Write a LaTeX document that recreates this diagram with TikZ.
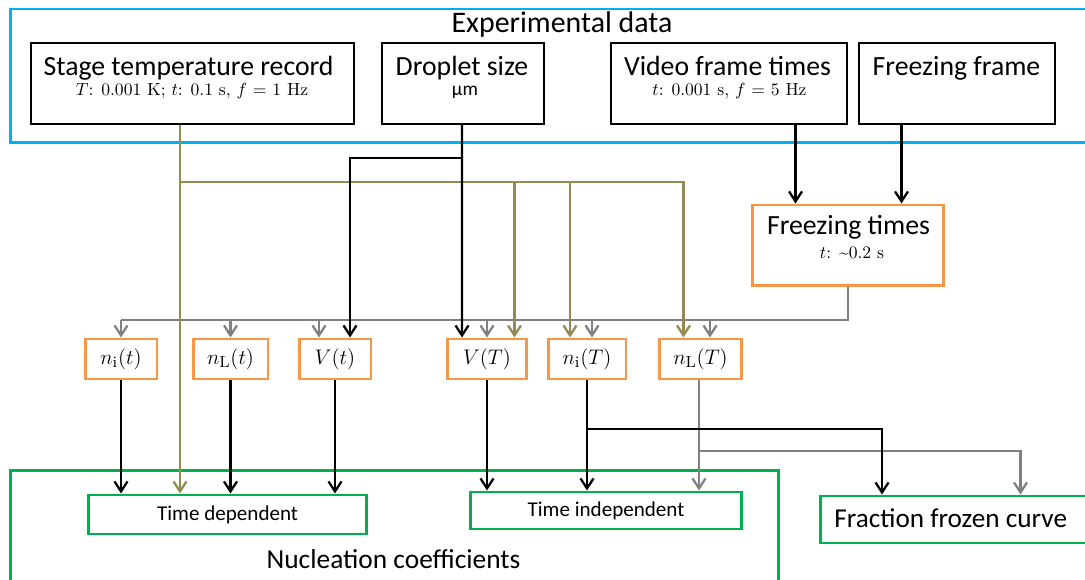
\documentclass[tikz,border=0pt]{standalone}
\usepackage{fontspec}
\setsansfont{Carlito}
\usetikzlibrary{arrows.meta}

\definecolor{expblue}{HTML}{00B0F0}
\definecolor{nucgreen}{HTML}{00B050}
\definecolor{calcorange}{HTML}{F79646}
\definecolor{tempolive}{HTML}{948A54}
\definecolor{framegray}{HTML}{808080}

\tikzset{
  panel/.style={draw, line width=1.7pt, inner sep=0pt},
  databox/.style={draw, line width=1.2pt, inner sep=0pt, minimum height=1.62cm},
  calcbox/.style={draw=calcorange, line width=1.7pt, inner sep=0pt},
  resbox/.style={draw=nucgreen, line width=1.7pt, inner sep=0pt},
  headfont/.style={font=\sffamily\fontsize{17}{20}\selectfont, inner sep=0pt},
  namefont/.style={font=\sffamily\fontsize{15.8}{19}\selectfont, inner sep=0pt},
  unitfont/.style={font=\fontsize{10}{12}\selectfont, inner sep=0pt},
  smallfont/.style={font=\sffamily\fontsize{12}{14}\selectfont},
  wire/.style={line width=1.3pt},
  tempwire/.style={wire, draw=tempolive},
  framewire/.style={wire, draw=framegray},
}

\begin{document}
\begin{tikzpicture}[x=0.02cm, y=-0.02cm, >={Straight Barb[length=2mm, width=2.6mm]}]
  \clip (0,0) rectangle (1085,580);

  % measured data
  \node[panel, draw=expblue, minimum width=21.8cm, minimum height=2.68cm] (expdata) at (555,76) {};
  \node[headfont, anchor=base] (exptitle) at (562,33) {Experimental data};
  \node[databox, minimum width=6.46cm] (stage) at (192.5,83.5) {};
  \node[namefont, anchor=base] (stagename) at (188.5,76) {Stage temperature record};
  \node[unitfont, anchor=base] (stageres) at (192,96) {$T$: 0.001 K; $t$: 0.1 s, $f$ = 1 Hz};
  \node[databox, minimum width=3.24cm] (droplet) at (463,83.5) {};
  \node[namefont, anchor=base] (dropletname) at (462,76) {Droplet size};
  \node[font=\sffamily\fontsize{11}{13}\selectfont, inner sep=0pt, anchor=base] (dropletres) at (465,96) {µm};
  \node[databox, minimum width=4.72cm] (video) at (729,83.5) {};
  \node[namefont, anchor=base] (videoname) at (727.5,76) {Video frame times};
  \node[unitfont, anchor=base] (videores) at (729.5,96) {$t$: 0.001 s, $f$ = 5 Hz};
  \node[databox, minimum width=3.92cm] (frame) at (957,83.5) {};
  \node[namefont, anchor=base] (framename) at (956.5,76) {Freezing frame};

  % derived quantities
  \node[calcbox, minimum width=3.84cm, minimum height=1.62cm] (ftimes) at (848,245.5) {};
  \node[namefont, anchor=base] (ftimesname) at (848.5,235) {Freezing times};
  \node[unitfont, anchor=base] (ftimesres) at (852,259) {$t$: \textasciitilde0.2 s};

  \tikzset{every node/.append style={font=\fontsize{13}{15}\selectfont}}
  \node[calcbox, minimum width=1.44cm, minimum height=0.8cm] (nit) at (121,359) {$n_{\mathrm{i}}(t)$};
  \node[calcbox, minimum width=1.5cm, minimum height=0.8cm] (nLt) at (230.5,359) {$n_{\mathrm{L}}(t)$};
  \node[calcbox, minimum width=1.44cm, minimum height=0.8cm] (Vt) at (335,359) {$V(t)$};
  \node[calcbox, minimum width=1.58cm, minimum height=0.8cm] (VT) at (487,359) {$V(T)$};
  \node[calcbox, minimum width=1.56cm, minimum height=0.8cm] (niT) at (587,359) {$n_{\mathrm{i}}(T)$};
  \node[calcbox, minimum width=1.64cm, minimum height=0.8cm] (nLT) at (700.5,359) {$n_{\mathrm{L}}(T)$};

  % results
  \node[panel, draw=nucgreen, minimum width=15.38cm, minimum height=2.6cm] (nucl) at (394.5,535) {};
  \node[headfont, font=\sffamily\fontsize{15.6}{18}\selectfont, anchor=base] (nucltitle) at (393.5,568) {Nucleation coefficients};
  \node[resbox, smallfont, minimum width=5.56cm, minimum height=0.78cm] (tdep) at (227.6,514.5) {Time dependent};
  \node[resbox, smallfont, minimum width=5.44cm, minimum height=0.74cm] (tind) at (606,510.5) {Time independent};
  \node[resbox, minimum width=5.6cm, minimum height=0.94cm] (frac) at (960,519.5) {};
  \node[namefont, font=\sffamily\fontsize{15.5}{18}\selectfont, anchor=base west] (fracname) at (834,527) {Fraction frozen curve};

  % bus points
  \coordinate (tempbus) at (180,182);
  \coordinate (sizebus) at (462,158);
  \coordinate (framebus) at (849,320);
  \coordinate (nibus) at (587,429);
  \coordinate (nlbus) at (699,451);

  % freezing times to every quantity
  \draw[framewire] (ftimes.south) |- (framebus -| nit.north);
  \foreach \n/\dx in {nit/0, nLt/0, Vt/-0.32, VT/0, niT/0.1, nLT/0.19}
    \draw[framewire, ->] ([xshift=\dx cm]\n.north |- framebus) -- ([xshift=\dx cm]\n.north);

  % temperature record
  \draw[tempwire, ->] (stage.south -| tempbus) -- (tdep.north -| tempbus);
  \draw[tempwire, ->] (tempbus) -| ([xshift=0.55cm]VT.north);
  \draw[tempwire, ->] (tempbus) -| ([xshift=-0.34cm]niT.north);
  \draw[tempwire, ->] (tempbus) -| ([xshift=-0.34cm]nLT.north);

  % droplet size
  \draw[wire, ->] (droplet.south -| sizebus) -- ([xshift=-0.5cm]VT.north);
  \draw[wire, ->] (sizebus) -| ([xshift=0.3cm]Vt.north);

  % video frames
  \draw[wire, ->] ([xshift=-1.05cm]ftimes.north |- video.south) -- ([xshift=-1.05cm]ftimes.north);
  \draw[wire, ->] ([xshift=1.07cm]ftimes.north |- frame.south) -- ([xshift=1.07cm]ftimes.north);

  % quantities to results
  \foreach \n in {nit, nLt, Vt}
    \draw[wire, ->] (\n.south) -- (\n.south |- tdep.north);
  \draw[wire, ->] (VT.south) -- (VT.south |- tind.north);
  \draw[framewire] (nLT.south -| nlbus) -- (nlbus);
  \draw[framewire, ->] (nlbus) -- (nlbus |- tind.north);
  \draw[framewire, ->] (nlbus) -| ([xshift=1.21cm]frac.north);
  \draw[wire] (niT.south -| nibus) -- (nibus);
  \draw[wire, ->] (nibus) -- (nibus |- tind.north);
  \draw[wire, ->] (nibus) -| ([xshift=-1.56cm]frac.north);
\end{tikzpicture}
\end{document}
